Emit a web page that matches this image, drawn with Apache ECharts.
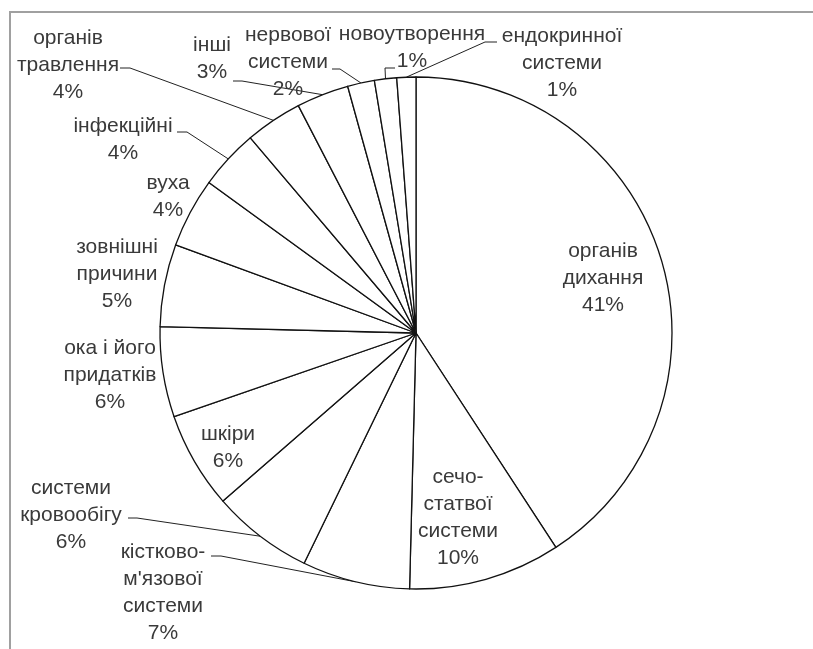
<!DOCTYPE html>
<html>
<head>
<meta charset="utf-8">
<script src="https://cdn.jsdelivr.net/npm/echarts@6/dist/echarts.min.js"></script>
<style>
html,body{margin:0;padding:0;background:#fff;}
#chart{width:813px;height:649px;}
</style>
</head>
<body>
<div id="chart"></div>
<script>
// Categories (clockwise from 12 o'clock)
const categories = [
  'органів\nдихання',
  'сечо-\nстатвої\nсистеми',
  'кістково-\nм\'язової\nсистеми',
  'системи\nкровообігу',
  'шкіри',
  'ока і його\nпридатків',
  'зовнішні\nпричини',
  'вуха',
  'інфекційні',
  'органів\nтравлення',
  'інші',
  'нервової\nсистеми',
  'новоутворення',
  'ендокринної\nсистеми'
];
// Shares (%)
const values = [40.8, 9.6, 6.8, 6.4, 6.1, 5.7, 5.2, 4.4, 3.8, 3.6, 3.3, 1.7, 1.4, 1.2];

// Label layout (label centre, leader line elbow & end) – layout only
const labelCenters = [
  [603, 278], [458, 518], [163, 593], [71, 515], [228, 448], [110, 375],
  [117, 274], [168, 197], [123, 140], [68, 65], [212, 59], [288, 62],
  [412, 48], [562, 63]
];
const leaderEnds = {
  2: [[221, 556], [211, 556]],
  3: [[137, 518], [128, 518]],
  8: [[187, 132], [177, 132]],
  9: [[130, 68], [120, 68]],
  10: [[242, 81], [233, 81]],
  11: [[340, 69], [332, 69]],
  12: [[385, 68], [395, 68]],
  13: [[485, 42], [497, 42]]
};

const chart = echarts.init(document.getElementById('chart'), null, {renderer: 'canvas'});
const data = categories.map((c, i) => ({
  name: c,
  value: values[i],
  labelLine: { show: leaderEnds[i] !== undefined }
}));

chart.setOption({
  animation: false,
  backgroundColor: '#fff',
  graphic: [{
    type: 'rect',
    shape: { x: 10, y: 12, width: 1000, height: 1000 },
    style: { fill: 'none', stroke: '#a0a0a0', lineWidth: 2 },
    silent: true
  }],
  series: [{
    type: 'pie',
    center: [416, 333],
    radius: 256,
    startAngle: 90,
    clockwise: true,
    avoidLabelOverlap: false,
    percentPrecision: 0,
    data: data,
    itemStyle: { color: '#fff', borderColor: '#111', borderWidth: 1.3 },
    label: {
      show: true,
      position: 'outside',
      formatter: '{b}\n{d}%',
      fontFamily: 'Liberation Sans',
      fontSize: 21,
      lineHeight: 27,
      color: '#3a3a3a',
      align: 'center'
    },
    labelLine: {
      show: true,
      length: 10,
      length2: 10,
      smooth: false,
      lineStyle: { color: '#222', width: 1 }
    },
    emphasis: { disabled: true },
    labelLayout: function (p) {
      const i = p.dataIndex;
      const c = labelCenters[i];
      const res = { x: c[0], y: c[1], align: 'center', verticalAlign: 'middle' };
      if (leaderEnds[i] && p.labelLinePoints) {
        const s = p.labelLinePoints[0];
        res.labelLinePoints = [[s[0], s[1]], leaderEnds[i][0], leaderEnds[i][1]];
      }
      return res;
    }
  }]
});
</script>
</body>
</html>
